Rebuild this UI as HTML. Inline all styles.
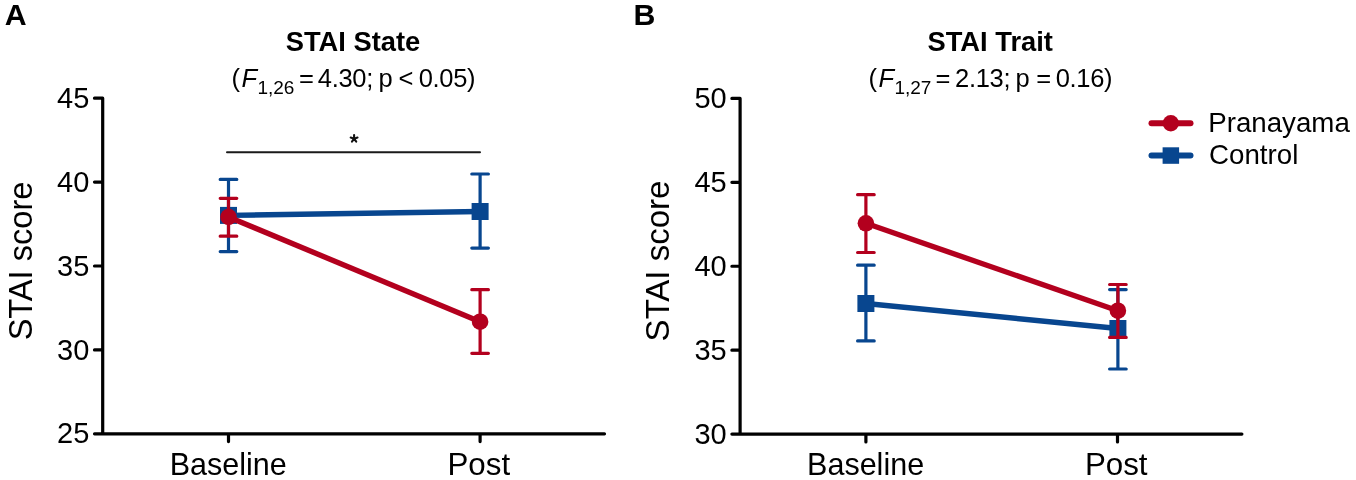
<!DOCTYPE html>
<html><head><meta charset="utf-8">
<style>
html,body{margin:0;padding:0;background:#fff;width:1356px;height:480px;overflow:hidden}
svg{display:block;filter:blur(0.5px)}
text{font-family:"Liberation Sans",sans-serif;fill:#000}
</style></head><body>
<svg width="1356" height="480" viewBox="0 0 1356 480">
<text x="4.85" y="25.10" font-size="30.3" font-weight="bold" text-anchor="start">A</text>
<text x="633.57" y="25.10" font-size="30.3" font-weight="bold" text-anchor="start">B</text>
<text x="353.00" y="51.40" font-size="27.3" font-weight="bold" text-anchor="middle">STAI State</text>
<text x="231.52" y="87.20" font-size="25.5" text-anchor="start">(</text>
<text x="241.42" y="87.20" font-size="25.5" font-style="italic" text-anchor="start">F</text>
<text x="257.45" y="93.90" font-size="19" text-anchor="start">1,26</text>
<text x="298.95" y="87.20" font-size="25.5" text-anchor="start">=</text>
<text x="317.81" y="87.20" font-size="25.5" text-anchor="start" letter-spacing="-0.3">4.30;</text>
<text x="378.46" y="87.20" font-size="25.5" text-anchor="start">p</text>
<text x="398.44" y="87.20" font-size="25.5" text-anchor="start" letter-spacing="-0.3">&lt;</text>
<text x="418.70" y="87.20" font-size="25.5" text-anchor="start" letter-spacing="-0.3">0.05)</text>
<path d="M102.7 98.2 V433.8 H604.5 M94.50 98.20 H102.7 M94.50 182.10 H102.7 M94.50 266.00 H102.7 M94.50 349.90 H102.7 M94.50 433.80 H102.7  M228.50 433.8 V441.6 M480.10 433.8 V441.6" stroke="#000" stroke-width="3.2" fill="none" stroke-linecap="round" stroke-linejoin="round"/>
<text x="89.30" y="107.80" font-size="29" text-anchor="end">45</text>
<text x="89.30" y="191.70" font-size="29" text-anchor="end">40</text>
<text x="89.30" y="275.60" font-size="29" text-anchor="end">35</text>
<text x="89.30" y="359.50" font-size="29" text-anchor="end">30</text>
<text x="89.30" y="443.40" font-size="29" text-anchor="end">25</text>
<text font-size="32.6" text-anchor="middle" transform="translate(32.3 261) rotate(-90)">STAI score</text>
<text x="228.20" y="474.80" font-size="30.5" text-anchor="middle">Baseline</text>
<text x="478.80" y="474.50" font-size="31.3" text-anchor="middle">Post</text>
<path d="M228.50 179.4 V251.6 M220.20 179.4 H236.80 M220.20 251.6 H236.80 M480.10 174 V248.1 M471.80 174 H488.40 M471.80 248.1 H488.40" stroke="#08468F" stroke-width="3.2" fill="none" stroke-linecap="round"/>
<path d="M228.50 215.4 L480.10 211.5" stroke="#08468F" stroke-width="5.4" fill="none"/>
<rect x="220.00" y="206.90" width="17" height="17" fill="#08468F"/>
<rect x="471.60" y="203.00" width="17" height="17" fill="#08468F"/>
<path d="M228.50 198.3 V236.2 M220.20 198.3 H236.80 M220.20 236.2 H236.80 M480.10 289.7 V353.3 M471.80 289.7 H488.40 M471.80 353.3 H488.40" stroke="#B3001E" stroke-width="3.2" fill="none" stroke-linecap="round"/>
<path d="M228.50 217 L480.10 321.7" stroke="#B3001E" stroke-width="5.4" fill="none"/>
<circle cx="228.50" cy="217" r="8.3" fill="#B3001E"/>
<circle cx="480.10" cy="321.7" r="8.3" fill="#B3001E"/>
<text x="990.20" y="51.40" font-size="27.3" font-weight="bold" text-anchor="middle">STAI Trait</text>
<text x="868.52" y="87.20" font-size="25.5" text-anchor="start">(</text>
<text x="878.42" y="87.20" font-size="25.5" font-style="italic" text-anchor="start">F</text>
<text x="894.45" y="93.90" font-size="19" text-anchor="start">1,27</text>
<text x="935.45" y="87.20" font-size="25.5" text-anchor="start">=</text>
<text x="955.02" y="87.20" font-size="25.5" text-anchor="start" letter-spacing="-0.3">2.13;</text>
<text x="1015.56" y="87.20" font-size="25.5" text-anchor="start">p</text>
<text x="1036.35" y="87.20" font-size="25.5" text-anchor="start">=</text>
<text x="1055.70" y="87.20" font-size="25.5" text-anchor="start" letter-spacing="-0.3">0.16)</text>
<path d="M740.1 98.4 V434.1 H1241.9 M731.90 98.40 H740.1 M731.90 182.33 H740.1 M731.90 266.25 H740.1 M731.90 350.18 H740.1 M731.90 434.10 H740.1  M865.90 434.1 V441.90000000000003 M1117.50 434.1 V441.90000000000003" stroke="#000" stroke-width="3.2" fill="none" stroke-linecap="round" stroke-linejoin="round"/>
<text x="726.70" y="108.00" font-size="29" text-anchor="end">50</text>
<text x="726.70" y="191.93" font-size="29" text-anchor="end">45</text>
<text x="726.70" y="275.85" font-size="29" text-anchor="end">40</text>
<text x="726.70" y="359.78" font-size="29" text-anchor="end">35</text>
<text x="726.70" y="443.70" font-size="29" text-anchor="end">30</text>
<text font-size="33" text-anchor="middle" transform="translate(669.4 261) rotate(-90)">STAI score</text>
<text x="865.60" y="474.80" font-size="30.5" text-anchor="middle">Baseline</text>
<text x="1116.20" y="474.50" font-size="31.3" text-anchor="middle">Post</text>
<path d="M865.90 265.2 V340.9 M857.60 265.2 H874.20 M857.60 340.9 H874.20 M1117.90 289.6 V369 M1109.60 289.6 H1126.20 M1109.60 369 H1126.20" stroke="#08468F" stroke-width="3.2" fill="none" stroke-linecap="round"/>
<path d="M865.90 303.5 L1117.90 328.5" stroke="#08468F" stroke-width="5.4" fill="none"/>
<rect x="857.40" y="295.00" width="17" height="17" fill="#08468F"/>
<rect x="1109.40" y="320.00" width="17" height="17" fill="#08468F"/>
<path d="M865.90 194.7 V252.5 M857.60 194.7 H874.20 M857.60 252.5 H874.20 M1117.90 284.5 V337.4 M1109.60 284.5 H1126.20 M1109.60 337.4 H1126.20" stroke="#B3001E" stroke-width="3.2" fill="none" stroke-linecap="round"/>
<path d="M865.90 223.3 L1117.90 310.7" stroke="#B3001E" stroke-width="5.4" fill="none"/>
<circle cx="865.90" cy="223.3" r="8.3" fill="#B3001E"/>
<circle cx="1117.90" cy="310.7" r="8.3" fill="#B3001E"/>
<path d="M227 152.2 H480" stroke="#1a1a1a" stroke-width="2" stroke-linecap="round"/>
<path d="M354.1 138.7 L354.10 135.10 M354.1 138.7 L357.52 137.59 M354.1 138.7 L356.22 141.61 M354.1 138.7 L351.98 141.61 M354.1 138.7 L350.68 137.59 " stroke="#111" stroke-width="2.1" stroke-linecap="round" fill="none"/>
<path d="M1151.5 123.3 H1190.5" stroke="#B3001E" stroke-width="6" stroke-linecap="round"/>
<circle cx="1170.8" cy="123.3" r="8.2" fill="#B3001E"/>
<path d="M1151.5 155.5 H1190.5" stroke="#08468F" stroke-width="6" stroke-linecap="round"/>
<rect x="1162.6" y="147.3" width="16.5" height="16.5" fill="#08468F"/>
<text x="1208.23" y="132.20" font-size="27.7" text-anchor="start">Pranayama</text>
<text x="1209.09" y="163.90" font-size="27.7" text-anchor="start">Control</text>
</svg>
</body></html>
